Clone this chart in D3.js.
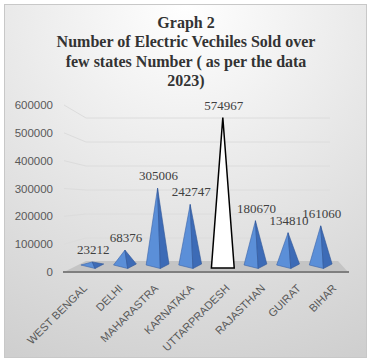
<!DOCTYPE html>
<html>
<head>
<meta charset="utf-8">
<script src="https://cdn.jsdelivr.net/npm/d3@7"></script>
<style>
  body { margin: 0; background: #fff; }
  svg { display: block; }
  .serif { font-family: "Liberation Serif", "Times New Roman", Times, "DejaVu Serif", serif; }
  .sans { font-family: "Liberation Sans", Arial, sans-serif; }
</style>
</head>
<body>
<div id="chart"></div>
<script>
// chart data
var states = ["WEST BENGAL", "DELHI", "MAHARASTRA", "KARNATAKA", "UTTARPRADESH", "RAJASTHAN", "GUIRAT", "BIHAR"];
var sold = [23212, 68376, 305006, 242747, 574967, 180670, 134810, 161060];
var yTicks = [0, 100000, 200000, 300000, 400000, 500000, 600000];
var titleLines = ["Graph 2", "Number of Electric Vechiles Sold over", "few states Number ( as per the data", "2023)"];

var W = 371, H = 363;

var svg = d3.select("#chart").append("svg")
  .attr("width", W)
  .attr("height", H);

var defs = svg.append("defs");
var bg = defs.append("radialGradient")
  .attr("id", "bg")
  .attr("cx", "50%").attr("cy", "0%").attr("r", "110%");
bg.append("stop").attr("offset", "0%").attr("stop-color", "#ffffff");
bg.append("stop").attr("offset", "100%").attr("stop-color", "#cfcfcf");

// chart area
svg.append("rect")
  .attr("x", 4.5).attr("y", 4.5)
  .attr("width", 362).attr("height", 353)
  .attr("fill", "url(#bg)")
  .attr("stroke", "#c8c8c8");

// title
svg.append("g").selectAll("text")
  .data(titleLines)
  .enter().append("text")
    .attr("class", "serif")
    .attr("x", 186)
    .attr("y", function(d, i) { return 28 + i * 19.3; })
    .attr("text-anchor", "middle")
    .style("font-weight", "bold")
    .style("font-size", "16px")
    .style("fill", "#333")
    .text(function(d) { return d; });

// scales
var x = d3.scaleBand().domain(states).range([76, 337]);      // pyramids (in depth)
var xFront = d3.scaleBand().domain(states).range([65, 350]); // category labels on front edge
var yFront = d3.scaleLinear().domain([0, 600000]).range([272, 105]); // left axis labels
var yBack = d3.scaleLinear().domain([0, 600000]).range([262, 118]);  // back wall
var yMid = d3.scaleLinear().domain([0, 600000]).range([268, 111]);   // pyramid tips

// gridlines (3D back wall)
svg.append("g").selectAll("path")
  .data(yTicks.slice(1))
  .enter().append("path")
    .attr("d", function(v) {
      return "M64," + yFront(v) + "L86," + yBack(v) + "L330," + yBack(v);
    })
    .attr("fill", "none")
    .attr("stroke", "#dcdcdc")
    .attr("stroke-width", 1);

// y axis labels
svg.append("g").selectAll("text")
  .data(yTicks)
  .enter().append("text")
    .attr("class", "sans")
    .attr("x", 53)
    .attr("y", function(v) { return yFront(v) + 4; })
    .attr("text-anchor", "end")
    .style("font-size", "11.5px")
    .style("fill", "#595959")
    .text(function(v) { return v; });

// floor
svg.append("path")
  .attr("d", "M64,272L348,272L338,261L86,261Z")
  .attr("fill", "#c4c4c4")
  .attr("stroke", "none");
svg.append("line")
  .attr("x1", 63).attr("x2", 349)
  .attr("y1", 272).attr("y2", 272)
  .attr("stroke", "#7f7f7f")
  .attr("stroke-width", 2);

var data = states.map(function(s, i) { return {state: s, value: sold[i]}; });
var bw = x.bandwidth() * 0.7;

// pyramids
var pyr = svg.append("g").selectAll("g")
  .data(data)
  .enter().append("g");

pyr.each(function(d) {
  var g = d3.select(this);
  var cx = x(d.state) + x.bandwidth() / 2;
  var tip = yMid(d.value);
  if (d.state === "UTTARPRADESH") {
    g.append("path")
      .attr("d", "M" + (cx - bw / 2) + ",268L" + (cx + bw / 2) + ",268L" + cx + "," + tip + "Z")
      .attr("fill", "#ffffff")
      .attr("stroke", "#000")
      .attr("stroke-width", 1.5);
    return;
  }
  var L = [cx - bw / 2, 265], F = [cx + bw * 0.12, 268.5], R = [cx + bw / 2, 264];
  g.append("path")
    .attr("d", "M" + L + "L" + F + "L" + cx + "," + tip + "Z")
    .attr("fill", "#5b8fd8")
    .attr("stroke", "#3a63a8")
    .attr("stroke-width", 0.6);
  g.append("path")
    .attr("d", "M" + F + "L" + R + "L" + cx + "," + tip + "Z")
    .attr("fill", "#3d6bb6")
    .attr("stroke", "#2f5597")
    .attr("stroke-width", 0.6);
});

// data labels
svg.append("g").selectAll("text")
  .data(data)
  .enter().append("text")
    .attr("class", "serif")
    .attr("x", function(d) { return x(d.state) + x.bandwidth() / 2 + 1; })
    .attr("y", function(d) { return yMid(d.value) - 8; })
    .attr("text-anchor", "middle")
    .style("font-size", "13px")
    .style("fill", "#404040")
    .text(function(d) { return d.value; });

// category labels
svg.append("g").selectAll("text")
  .data(states)
  .enter().append("text")
    .attr("class", "sans")
    .attr("transform", function(d) {
      return "translate(" + (xFront(d) + xFront.bandwidth() / 2 + 5) + ",289) rotate(-45)";
    })
    .attr("text-anchor", "end")
    .style("font-size", "11px")
    .style("fill", "#595959")
    .text(function(d) { return d; });
</script>
</body>
</html>
